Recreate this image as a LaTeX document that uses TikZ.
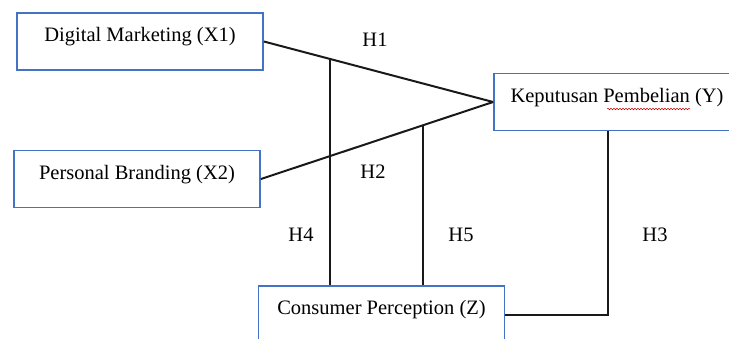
\documentclass[tikz,border=0pt]{standalone}
\usepackage{fontspec}
\setmainfont{Liberation Serif}
\usetikzlibrary{decorations.pathmorphing}
\definecolor{boxblue}{RGB}{68,114,196}
\begin{document}
\begin{tikzpicture}[x=1pt, y=-1pt,
        varbox/.style={draw=boxblue, line width=1.8pt, minimum width=246pt, minimum height=57pt,
            inner sep=0pt, text height=16pt, text depth=16pt, font=\fontsize{20.5}{24}\selectfont},
        path/.style={line width=2pt, black!90},
        hlabel/.style={font=\fontsize{20.5}{24}\selectfont}]
        \useasboundingbox (0,0) rectangle (729,338);

        \node[varbox] (X1) at (140, 41.5) {Digital Marketing (X1)};
        \node[varbox] (X2) at (137, 179) {Personal Branding (X2)};
        \node[varbox] (Y) at (617, 102) {Keputusan Pembelian (Y)};
        \node[varbox] (Z) at (381.5, 314.5) {Consumer Perception (Z)};

        \draw[path] (X1.east) -- (Y.west) coordinate[pos=0.29] (j1);
        \draw[path] (X2.east) -- (Y.west) coordinate[pos=0.697] (j2);
        \draw[path] (j1) -- (j1 |- Z.north);
        \draw[path] (j2) -- (j2 |- Z.north);
        \draw[path] (Z.east) -| ([xshift=115pt]Y.south west);

        % spell check mark
        \draw[red!80!black, line width=0.5pt, decorate, decoration={snake, amplitude=0.7pt, segment length=3pt}]
            (607, 109) -- (690, 109);

        \node[hlabel] (h1) at (375, 40) {H1};
        \node[hlabel] (h2) at (373, 172) {H2};
        \node[hlabel] (h4) at (301, 235) {H4};
        \node[hlabel] (h5) at (461, 235) {H5};
        \node[hlabel] (h3) at (655, 235) {H3};
    \end{tikzpicture}
\end{document}
